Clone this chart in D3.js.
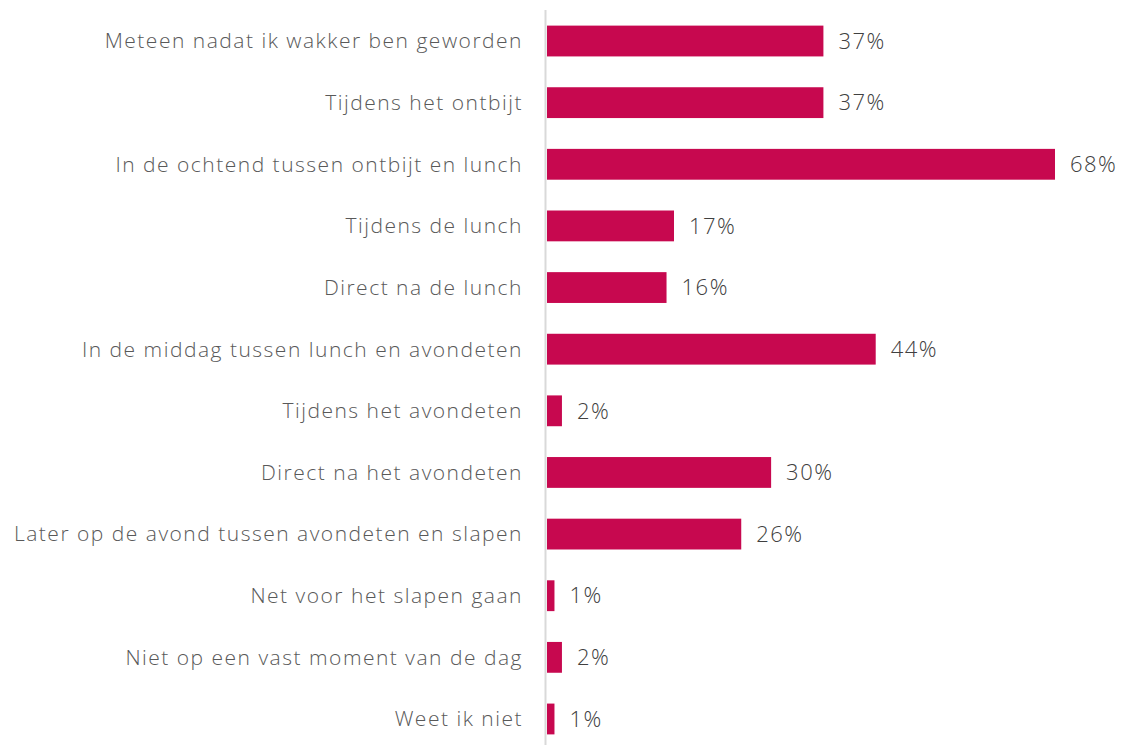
<!DOCTYPE html>
<html><head><meta charset="utf-8">
<script src="https://cdn.jsdelivr.net/npm/d3@7"></script>
<style>body{margin:0;background:#fff}svg{display:block}</style>
</head><body>
<script>
const categories = ["Meteen nadat ik wakker ben geworden","Tijdens het ontbijt","In de ochtend tussen ontbijt en lunch","Tijdens de lunch","Direct na de lunch","In de middag tussen lunch en avondeten","Tijdens het avondeten","Direct na het avondeten","Later op de avond tussen avondeten en slapen","Net voor het slapen gaan","Niet op een vast moment van de dag","Weet ik niet"];
const values = [37,37,68,17,16,44,2,30,26,1,2,1];

const W=1127,H=745;
const svg=d3.select("body").append("svg").attr("width",W).attr("height",H);
const x=d3.scaleLinear().domain([0,68]).range([547,1055]);
const y=d3.scaleBand().domain(categories).range([10.2,749.8]).paddingInner(0.5).paddingOuter(0.25);
const font="'Open Sans', sans-serif";

svg.selectAll("rect.bar").data(values).join("rect").attr("class","bar")
 .attr("x",x(0)).attr("y",(d,i)=>y(categories[i]))
 .attr("width",d=>x(d)-x(0)).attr("height",y.bandwidth()).attr("fill","#C7084F");

svg.append("line").attr("x1",545.5).attr("x2",545.5).attr("y1",10).attr("y2",H)
 .attr("stroke","#d9d9d9").attr("stroke-width",2);

svg.selectAll("text.cat").data(categories).join("text").attr("class","cat")
 .attr("x",523).attr("y",d=>y(d)+y.bandwidth()/2).attr("dy","0.35em")
 .attr("text-anchor","end").attr("font-family",font).attr("font-size",21).attr("font-weight",300)
 .attr("letter-spacing",1.5).attr("fill","#595959").text(d=>d);
svg.selectAll("text.val").data(values).join("text").attr("class","val")
 .attr("x",d=>x(d)+15).attr("y",(d,i)=>y(categories[i])+y.bandwidth()/2).attr("dy","0.35em")
 .attr("font-family",font).attr("font-size",22).attr("font-weight",300)
 .attr("letter-spacing",1.5).attr("fill","#404040").text(d=>d+"%");
</script>
</body></html>
